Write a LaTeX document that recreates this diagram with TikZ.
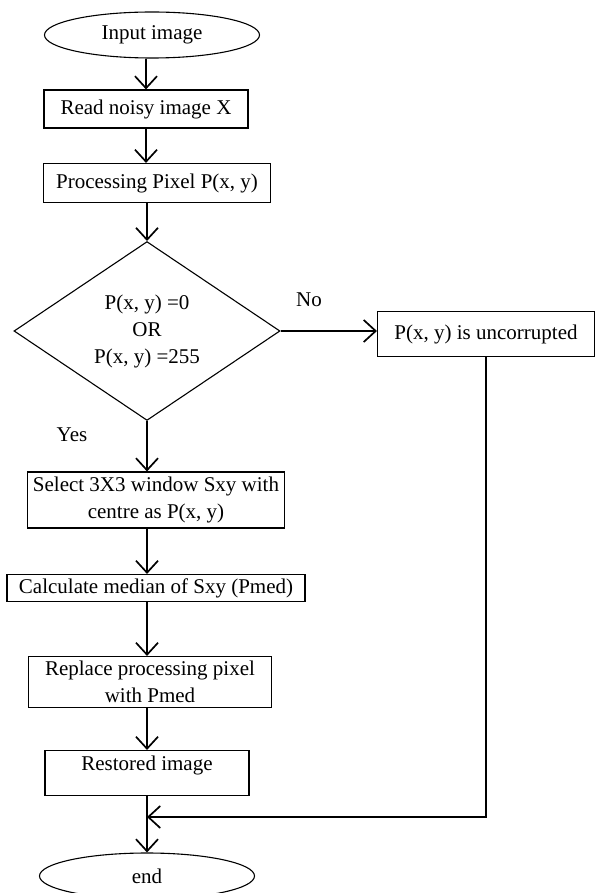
\documentclass[tikz,border=0pt]{standalone}
\usepackage{fontspec}
\setmainfont{Liberation Serif}
\usetikzlibrary{shapes.geometric,arrows.meta}
\tikzset{
  stepbox/.style={draw, line width=1.1pt, inner sep=2pt, align=center},
  term/.style={draw, ellipse, line width=1.1pt, minimum width=215pt, minimum height=46pt, inner sep=0pt},
  test/.style={draw, diamond, line width=1.1pt, minimum width=266pt, minimum height=176pt, inner sep=0pt, align=center},
  arr/.style={line width=1.7pt, -{Straight Barb[length=12pt,width=22pt,line width=1.7pt]}},
}
\begin{document}
\begin{tikzpicture}[x=1pt, y=-1pt, font=\fontsize{21}{27}\selectfont]
    \useasboundingbox (0,0) rectangle (595,893);
    \node[term] (in) at (152,35) {Input image};
    \node[stepbox, minimum width=204pt, minimum height=38pt] (read) at (146,109) {Read noisy image X};
    \node[stepbox, minimum width=227pt, minimum height=39pt] (proc) at (157,183) {Processing Pixel P(x, y)};
    \node[test] (dec) at (147,331) {P(x, y) =0\\OR\\P(x, y) =255};
    \node[stepbox, minimum width=217pt, minimum height=45pt] (unc) at (486,334) {P(x, y) is uncorrupted};
    \node (no) at (309,300) {No};
    \node (yes) at (72,435) {Yes};
    \node[stepbox, minimum width=257pt, minimum height=56pt] (sel) at (156,500) {Select 3X3 window Sxy with\\centre as P(x, y)};
    \node[stepbox, minimum width=298pt, minimum height=27pt, inner sep=0pt] (med) at (156,588) {Calculate median of Sxy (Pmed)};
    \node[stepbox, minimum width=243pt, minimum height=51pt] (rep) at (150,682) {Replace processing pixel\\with Pmed};
    \node[stepbox, minimum width=204pt, minimum height=45pt, text depth=20pt] (rest) at (147,773) {Restored image};
    \node[term] (stop) at (147,876) {end};
    \coordinate (join) at (147,817);
    % main line
    \draw[arr] (in.south -| read) -- (read.north);
    \draw[arr] (read) -- (proc.north -| read);
    \draw[arr] (proc.south -| dec) -- (dec.north);
    \draw[arr] (dec.east) -- (dec.east -| unc.west);
    \draw[arr] (dec.south) -- (sel.north -| dec);
    \draw[arr] (sel.south -| dec) -- (med.north -| dec);
    \draw[arr] (med.south -| dec) -- (rep.north -| dec);
    \draw[arr] (rep.south -| dec) -- (rest.north -| dec);
    \draw[line width=1.7pt] (rest.south -| dec) -- (join);
    \draw[arr] (join) -- (stop.north);
    % uncorrupted branch
    \draw[arr] (unc.south) |- (join);
\end{tikzpicture}
\end{document}
